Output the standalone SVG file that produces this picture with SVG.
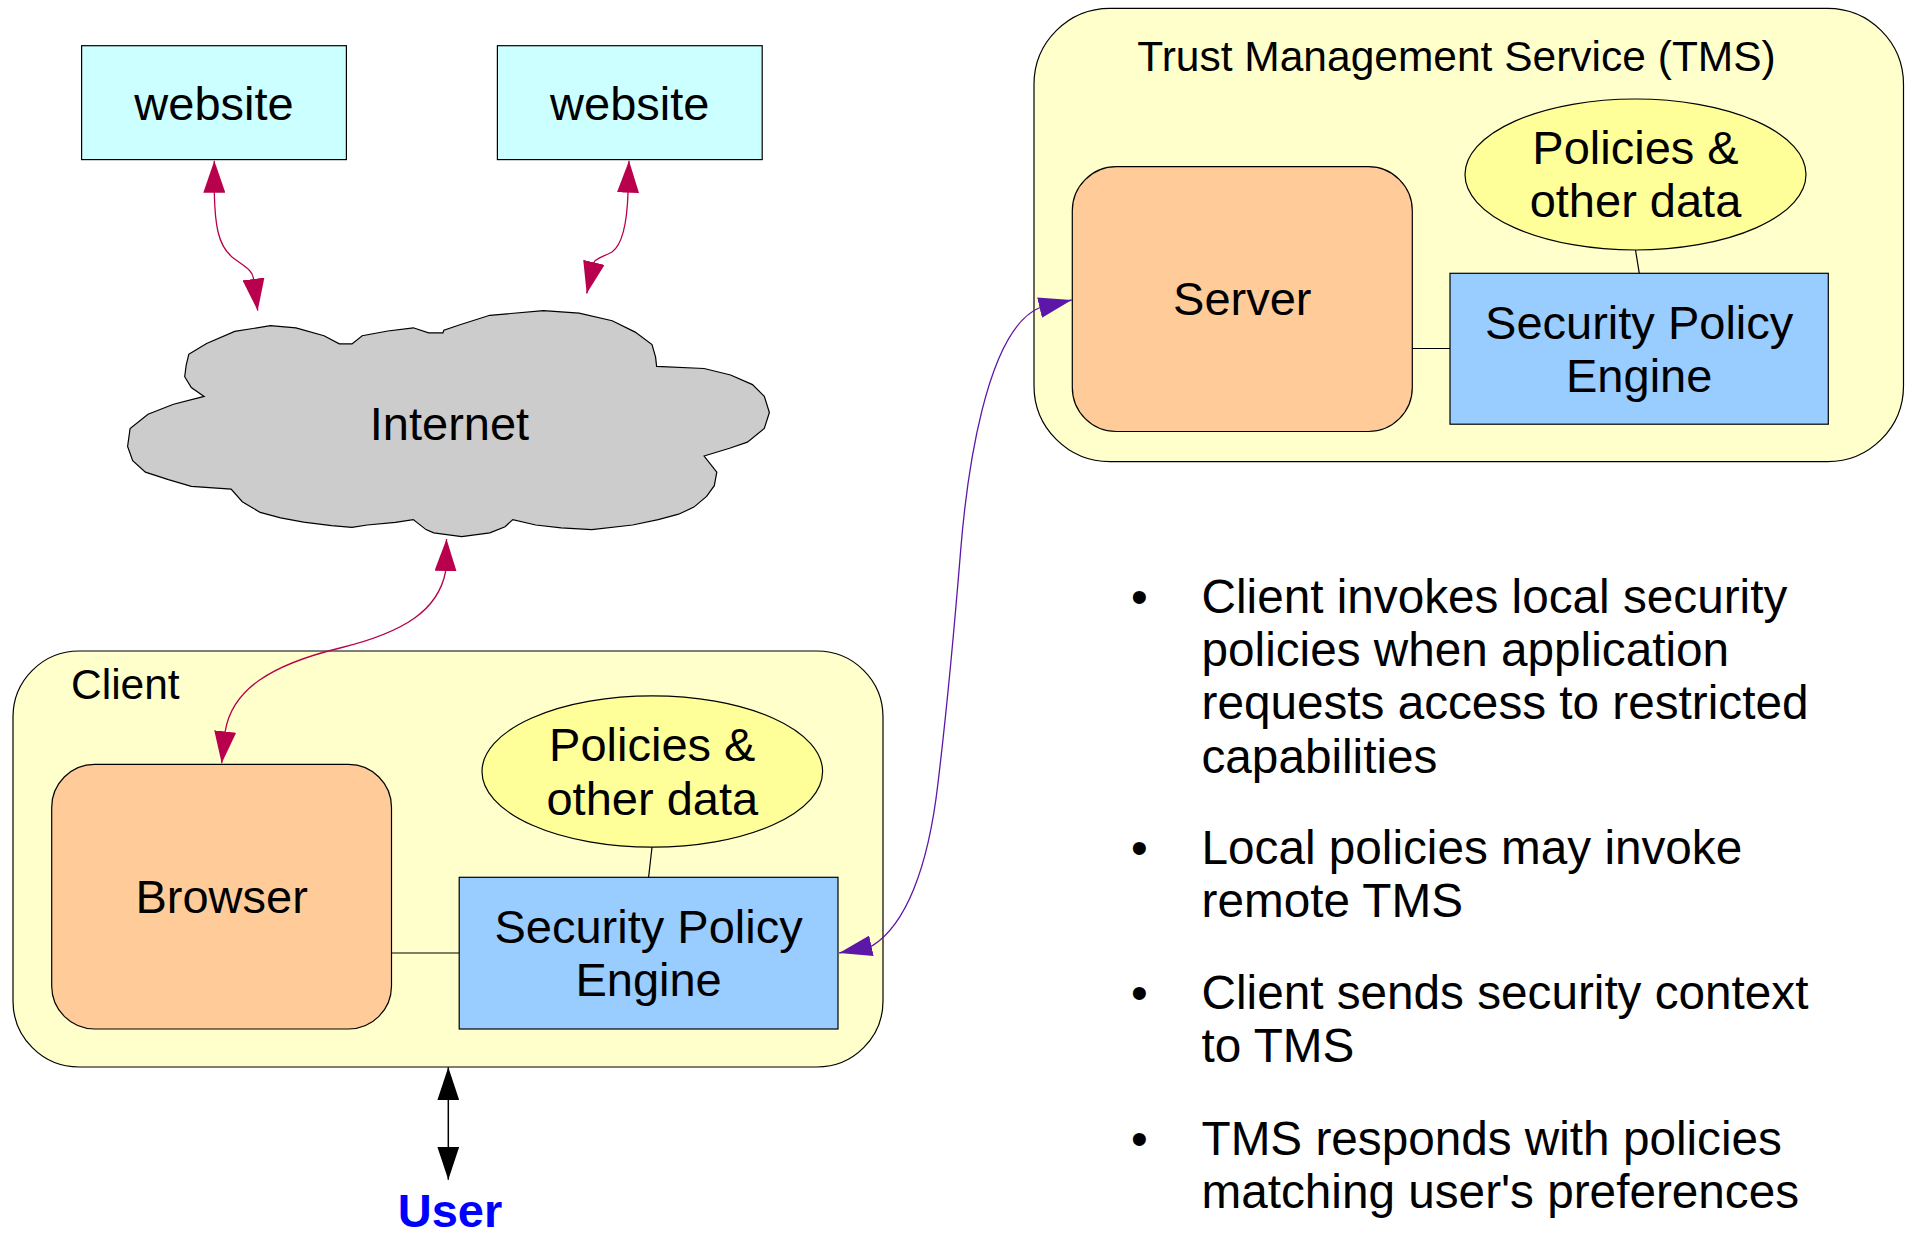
<svg xmlns="http://www.w3.org/2000/svg" width="1905" height="1234" viewBox="0 0 1905 1234">
  <style>
    .t { font-family: "Liberation Sans", Arial, sans-serif; fill: #000; }
    .lbl { font-size: 47px; text-anchor: middle; }
    .cap { font-size: 42.5px; }
    .bul { font-size: 47.7px; }
    .box { stroke: #000; stroke-width: 1.2; }
    .web { fill: #ccffff; }
    .cont { fill: #ffffcc; }
    .proc { fill: #ffcc99; }
    .data { fill: #ffff99; }
    .spe { fill: #99ccff; }
    .link { stroke: #000; stroke-width: 1.2; fill: none; }
    .red { stroke: #b8004c; stroke-width: 1.3; fill: none; }
    .pur { stroke: #5c16a8; stroke-width: 1.3; fill: none; }
    .blk { stroke: #000; stroke-width: 1.5; fill: none; }
  </style>
  <defs>
    <marker id="headRed" markerUnits="userSpaceOnUse" viewBox="0 0 32 22" markerWidth="32" markerHeight="22" refX="32" refY="11" orient="auto-start-reverse">
      <path d="M0,0 L32,11 L0,22 z" fill="#b8004c"/>
    </marker>
    <marker id="headPur" markerUnits="userSpaceOnUse" viewBox="0 0 33 21" markerWidth="33" markerHeight="21" refX="33" refY="10.5" orient="auto-start-reverse">
      <path d="M0,0 L33,10.5 L0,21 z" fill="#5c16a8"/>
    </marker>
    <marker id="headBlk" markerUnits="userSpaceOnUse" viewBox="0 0 33 22" markerWidth="33" markerHeight="22" refX="33" refY="11" orient="auto-start-reverse">
      <path d="M0,0 L33,11 L0,22 z" fill="#000"/>
    </marker>
  </defs>

  <rect width="1905" height="1234" fill="#ffffff"/>

  <g id="website1">
    <rect class="box web" x="81.6" y="45.7" width="264.8" height="113.9"/>
    <text class="t lbl" x="214" y="119.5">website</text>
  </g>
  <g id="website2">
    <rect class="box web" x="497.4" y="45.7" width="264.8" height="113.9"/>
    <text class="t lbl" x="629.8" y="119.5">website</text>
  </g>

  <g id="internet">
    <path class="box" fill="#cccccc" d="M188.8,354.3 L206.6,343.5 L234.7,331.4 L270.4,325.7 L295.9,327.8 L324,335.7 L339.3,343.9 L352,343.9 L362.2,335.7 L387.8,331 L413.3,327.8 L428.6,332.8 L442.9,332.8 L443.9,330.3 L459.2,325 L489.8,315.3 L543.4,310.7 L579.1,313.2 L612.2,320.7 L635.2,332.1 L652,344.6 L655.6,357.1 L656.6,366.4 L704.1,368.5 L730.6,375 L752.5,384.6 L764.3,396.4 L769.4,412.5 L764.3,428.5 L747.4,442.1 L729.6,448.2 L704.1,456 L716.8,472.1 L714.3,485.7 L706.6,496.4 L693.9,507.1 L678.6,514.2 L658.2,519.6 L632.6,525 L591.8,529.6 L561.2,527.8 L535.7,525 L512.8,519.6 L505.1,526.7 L489.8,532.8 L461.7,536.7 L433.7,532.8 L426,529.6 L413.3,519.6 L395.4,522.4 L367.3,525 L352,527.4 L331.6,525.7 L303.6,522.1 L280.6,517.8 L260.2,512.4 L242.3,501.7 L231.1,489.2 L191.3,486.4 L168.4,479.6 L145.4,472.1 L132.7,460.7 L127.6,446.4 L130.1,428.5 L148,414.2 L173.5,404.2 L204.1,396.4 L191.3,387.5 L184.7,376.7 L186.2,365 Z"/>
    <text class="t lbl" x="449.5" y="440">Internet</text>
  </g>

  <g id="client">
    <rect class="box cont" x="13" y="651" width="870" height="416" rx="66" ry="66"/>
    <text class="t cap" x="71" y="699">Client</text>
  </g>
  <g id="browser">
    <rect class="box proc" x="51.7" y="764.4" width="339.8" height="264.6" rx="43" ry="43"/>
    <text class="t lbl" x="221.6" y="913">Browser</text>
  </g>
  <g id="client-data">
    <ellipse class="box data" cx="652.3" cy="771.5" rx="170.3" ry="75.7"/>
    <text class="t lbl" x="652.3" y="761.3">Policies &amp;</text>
    <text class="t lbl" x="652.3" y="815">other data</text>
  </g>
  <g id="client-spe">
    <rect class="box spe" x="459.2" y="877.3" width="378.8" height="151.7"/>
    <text class="t lbl" x="648.6" y="942.5">Security Policy</text>
    <text class="t lbl" x="648.6" y="996">Engine</text>
  </g>

  <g id="tms">
    <rect class="box cont" x="1034" y="8.3" width="869.5" height="453.4" rx="76" ry="76"/>
    <text class="t cap" x="1137.3" y="70.7">Trust Management Service (TMS)</text>
  </g>
  <g id="server">
    <rect class="box proc" x="1072.3" y="166.7" width="340" height="264.8" rx="44" ry="44"/>
    <text class="t lbl" x="1242.3" y="315.3">Server</text>
  </g>
  <g id="tms-data">
    <ellipse class="box data" cx="1635.5" cy="174.5" rx="170.5" ry="75.5"/>
    <text class="t lbl" x="1635.5" y="163.8">Policies &amp;</text>
    <text class="t lbl" x="1635.5" y="217.2">other data</text>
  </g>
  <g id="tms-spe">
    <rect class="box spe" x="1450" y="273.3" width="378.3" height="150.9"/>
    <text class="t lbl" x="1639.2" y="338.5">Security Policy</text>
    <text class="t lbl" x="1639.2" y="392">Engine</text>
  </g>

  <g id="user">
    <text class="t" x="450" y="1227" font-size="47" font-weight="bold" text-anchor="middle" style="fill:#0000ff">User</text>
  </g>

  <g id="notes">
    <text class="t bul" x="1131" y="612.7">•</text>
    <text class="t bul" x="1201.5" y="612.7">Client invokes local security</text>
    <text class="t bul" x="1201.5" y="666">policies when application</text>
    <text class="t bul" x="1201.5" y="719.3">requests access to restricted</text>
    <text class="t bul" x="1201.5" y="772.6">capabilities</text>
    <text class="t bul" x="1131" y="863.5">•</text>
    <text class="t bul" x="1201.5" y="863.5">Local policies may invoke</text>
    <text class="t bul" x="1201.5" y="916.8">remote TMS</text>
    <text class="t bul" x="1131" y="1008.5">•</text>
    <text class="t bul" x="1201.5" y="1008.5">Client sends security context</text>
    <text class="t bul" x="1201.5" y="1061.8">to TMS</text>
    <text class="t bul" x="1131" y="1154.7">•</text>
    <text class="t bul" x="1201.5" y="1154.7">TMS responds with policies</text>
    <text class="t bul" x="1201.5" y="1208">matching user's preferences</text>
  </g>

  <g id="connectors">
    <line class="link" x1="391.5" y1="953" x2="459.2" y2="953"/>
    <line class="link" x1="652" y1="847.2" x2="648.6" y2="877.3"/>
    <line class="link" x1="1412.3" y1="348.5" x2="1450" y2="348.5"/>
    <line class="link" x1="1635.5" y1="250" x2="1639.3" y2="273.3"/>
    <path class="red" marker-start="url(#headRed)" marker-end="url(#headRed)" d="M214.3,160.7 L214.3,193 C215,225 218,245 232,257 C245,267 252,270 253.3,277.5 L257.7,310.7"/>
    <path class="red" marker-start="url(#headRed)" marker-end="url(#headRed)" d="M629,160.7 L628,192.8 C627,225 622,245 612,252 C603,257 596,258 593.9,262.5 L586.7,293.5"/>
    <path class="red" marker-start="url(#headRed)" marker-end="url(#headRed)" d="M446.5,539 L445.5,572 C438,610 405,632 340,648 C270,665 232,690 225.2,731.3 L221.7,763.3"/>
    <path class="pur" marker-start="url(#headPur)" marker-end="url(#headPur)" d="M839.2,953 L872.5,945.6 C905,925 928,870 938,783 C948,700 955,620 960.7,550 C966.4,480 985,330 1040,307.5 L1071.7,300"/>
    <path class="blk" marker-start="url(#headBlk)" marker-end="url(#headBlk)" d="M448.3,1067.3 L448.3,1179.7"/>
  </g>
</svg>
